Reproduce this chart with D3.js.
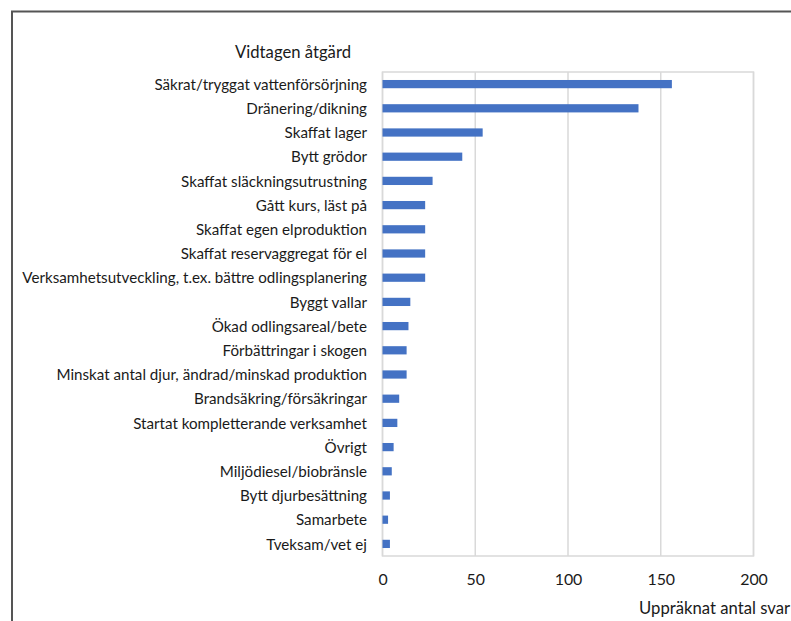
<!DOCTYPE html>
<html><head><meta charset="utf-8">
<script src="https://cdn.jsdelivr.net/npm/d3@7"></script>
<style>body{margin:0;background:#fff}svg{display:block}</style>
</head><body>
<svg id="c" width="791" height="621"></svg>
<script>
const categories = [
  "Säkrat/tryggat vattenförsörjning",
  "Dränering/dikning",
  "Skaffat lager",
  "Bytt grödor",
  "Skaffat släckningsutrustning",
  "Gått kurs, läst på",
  "Skaffat egen elproduktion",
  "Skaffat reservaggregat för el",
  "Verksamhetsutveckling, t.ex. bättre odlingsplanering",
  "Byggt vallar",
  "Ökad odlingsareal/bete",
  "Förbättringar i skogen",
  "Minskat antal djur, ändrad/minskad produktion",
  "Brandsäkring/försäkringar",
  "Startat kompletterande verksamhet",
  "Övrigt ",
  "Miljödiesel/biobränsle",
  "Bytt djurbesättning",
  "Samarbete",
  "Tveksam/vet ej"
];
const values = [156, 138, 54, 43, 27, 23, 23, 23, 23, 15, 14, 13, 13, 9, 8, 6, 5, 4, 3, 4];
const xTicks = [0, 50, 100, 150, 200];
const yTitle = "Vidtagen åtgärd";
const xTitle = "Uppräknat antal svar";

const svg = d3.select("#c");
const font = "Lato, 'Open Sans', sans-serif";
const L = 382.5, R = 753.5, T = 72, B = 556;

// frame
svg.append("path").attr("d","M12,621 V11.5 H791").attr("fill","none").attr("stroke","#555").attr("stroke-width",2);

const x = d3.scaleLinear().domain([0,200]).range([L,R]);
const y = d3.scaleBand().domain(categories).range([T,B]).paddingInner(0.66).paddingOuter(0.33);

// gridlines
svg.append("g").selectAll("line").data(xTicks).join("line")
  .attr("x1",d=>x(d)).attr("x2",d=>x(d)).attr("y1",T).attr("y2",B)
  .attr("stroke","#d9d9d9").attr("stroke-width",1.5);
svg.append("rect").attr("x",L).attr("y",T).attr("width",R-L).attr("height",B-T)
  .attr("fill","none").attr("stroke","#d9d9d9").attr("stroke-width",1.5);

// bars
svg.append("g").selectAll("rect").data(values).join("rect")
  .attr("x",x(0)).attr("y",(d,i)=>y(categories[i]))
  .attr("width",d=>x(d)-x(0)).attr("height",y.bandwidth())
  .attr("fill","#4472c4");

// category labels
const lab = svg.append("g").selectAll("text").data(categories).join("text")
  .attr("x",367).attr("y",d=>y(d)+y.bandwidth()/2).attr("dy","0.38em")
  .attr("text-anchor","end").attr("font-family",font).attr("font-size",14).attr("fill","#1a1a1a")
  .text(d=>d);
let longest = 0;
lab.each(function(){ longest = Math.max(longest, this.getComputedTextLength()); });
const fs = 14 * 345 / longest;
lab.attr("font-size", fs);

// x tick labels
const xAxis = d3.axisBottom(x).tickValues(xTicks).tickSize(0).tickPadding(0);
const ga = svg.append("g").attr("transform",`translate(0,${B+18})`).call(xAxis);
ga.select(".domain").remove();
ga.selectAll("text").attr("font-family",font).attr("font-size",fs*1.05).attr("fill","#1a1a1a");

svg.append("text").attr("x",293).attr("y",52).attr("dy","0.38em").attr("text-anchor","middle")
  .attr("font-family",font).attr("font-size",fs*1.1).attr("fill","#1a1a1a").text(yTitle);
svg.append("text").attr("x",790).attr("y",608).attr("dy","0.38em").attr("text-anchor","end")
  .attr("font-family",font).attr("font-size",fs*1.1).attr("fill","#1a1a1a").text(xTitle);
</script>
</body></html>
